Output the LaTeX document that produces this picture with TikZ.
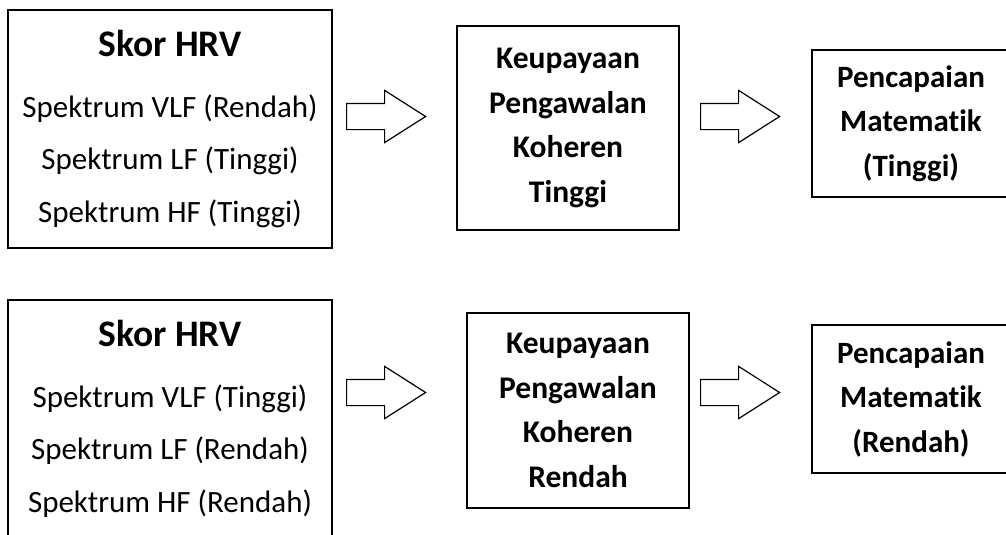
\documentclass[tikz,border=0pt]{standalone}
\usepackage{fontspec}
\setmainfont[Ligatures={NoCommon}]{Carlito}
\usetikzlibrary{shapes.arrows}
\tikzset{
	hrvbox/.style={draw, line width=1.6pt, minimum width=324pt, minimum height=238pt, align=center, inner sep=0pt, font=\fontsize{31}{52.5}\selectfont},
	midbox/.style={draw, line width=1.6pt, minimum width=222pt, align=center, inner sep=0pt, font=\bfseries\fontsize{31.5}{44.5}\selectfont},
	outbox/.style={draw, line width=1.6pt, minimum width=198pt, align=center, inner sep=0pt, font=\bfseries\fontsize{31}{44.5}\selectfont},
	blockarrow/.style={single arrow, draw, line width=1.2pt, minimum height=79pt, inner xsep=0pt, inner ysep=12.5pt, single arrow head extend=13pt, single arrow tip angle=65, anchor=tail}
}
\begin{document}
\begin{tikzpicture}[x=1pt,y=-1pt]
				\useasboundingbox (0,0) rectangle (1006,535);
				\clip (0,0) rectangle (1006,535);
				% baris atas
				\node[hrvbox] (skorA) at (170,129) {{\bfseries\fontsize{37.5}{52.5}\selectfont Skor HRV}\\[8pt] Spektrum VLF (Rendah)\\ Spektrum LF (Tinggi)\\ Spektrum HF (Tinggi)};
				\node[midbox, minimum height=204pt] (kawalA) at (568,128) {Keupayaan\\ Pengawalan\\ Koheren\\ Tinggi};
				\node[outbox, minimum height=147pt] (capaiA) at (911,123.5) {Pencapaian\\ Matematik\\ (Tinggi)};
				\node[blockarrow] (panahA1) at (346,116.5) {};
				\node[blockarrow] (panahA2) at (700,116.5) {};
				% baris bawah
				\node[hrvbox] (skorB) at (170,419) {{\bfseries\fontsize{37.5}{52.5}\selectfont Skor HRV}\\[8pt] Spektrum VLF (Tinggi)\\ Spektrum LF (Rendah)\\ Spektrum HF (Rendah)};
				\node[midbox, minimum height=195pt] (kawalB) at (578,410.5) {Keupayaan\\ Pengawalan\\ Koheren\\ Rendah};
				\node[outbox, minimum height=148pt] (capaiB) at (911,399) {Pencapaian\\ Matematik\\ (Rendah)};
				\node[blockarrow] (panahB1) at (346,392.5) {};
				\node[blockarrow] (panahB2) at (700,392.5) {};
\end{tikzpicture}
\end{document}
